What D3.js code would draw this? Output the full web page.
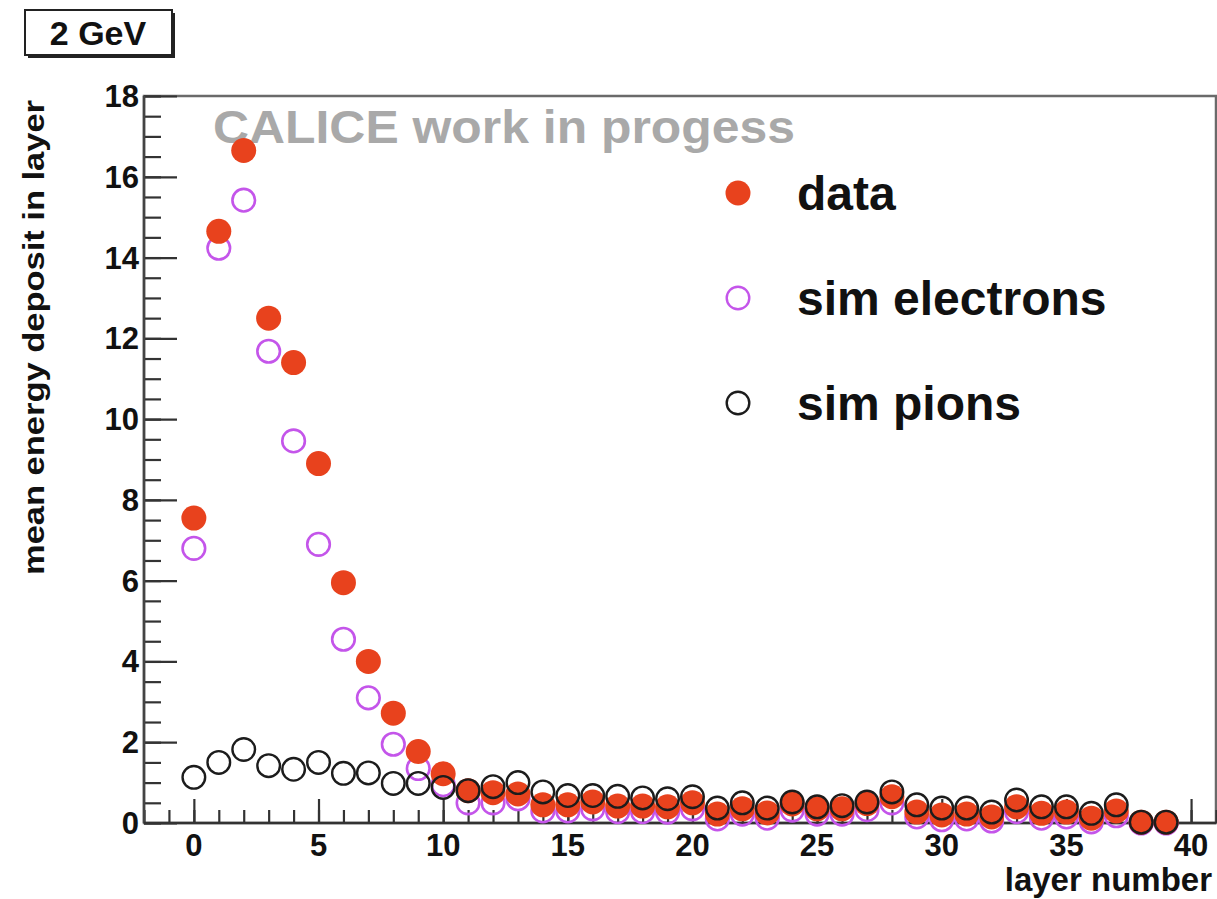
<!DOCTYPE html>
<html>
<head>
<meta charset="utf-8">
<script src="https://cdn.jsdelivr.net/npm/d3@7"></script>
<style>
  html, body { margin: 0; padding: 0; background: #fff; }
  svg { display: block; font-family: "Liberation Sans", Arial, Helvetica, sans-serif; }
</style>
</head>
<body>
<svg id="chart" width="1217" height="899"></svg>
<script>
// Longitudinal shower profile: mean energy deposit per layer, 2 GeV beam
const layers = d3.range(0, 40);

const dataValues = [7.55, 14.65, 16.65, 12.5, 11.4, 8.9, 5.95, 4.0, 2.72, 1.77,
  1.22, 0.8, 0.75, 0.72, 0.45, 0.45, 0.52, 0.42, 0.42, 0.4,
  0.5, 0.22, 0.35, 0.25, 0.47, 0.35, 0.35, 0.48, 0.65, 0.27,
  0.2, 0.22, 0.15, 0.4, 0.24, 0.27, 0.12, 0.3, 0.02, 0.02];

const simElectrons = [6.8, 14.23, 15.42, 11.68, 9.46, 6.9, 4.55, 3.1, 1.95, 1.35,
  0.95, 0.5, 0.5, 0.6, 0.3, 0.3, 0.35, 0.28, 0.28, 0.27,
  0.35, 0.1, 0.22, 0.12, 0.32, 0.22, 0.22, 0.33, 0.5, 0.15,
  0.08, 0.1, 0.05, 0.28, 0.12, 0.15, 0.03, 0.18, 0.0, 0.0];

const simPions = [1.13, 1.5, 1.82, 1.42, 1.33, 1.5, 1.23, 1.24, 0.98, 0.98,
  0.88, 0.8, 0.9, 1.0, 0.77, 0.68, 0.68, 0.66, 0.62, 0.6,
  0.65, 0.37, 0.5, 0.37, 0.52, 0.4, 0.43, 0.52, 0.77, 0.45,
  0.37, 0.37, 0.27, 0.57, 0.4, 0.4, 0.24, 0.45, 0.02, 0.02];

const xTickValues = [0, 5, 10, 15, 20, 25, 30, 35, 40];
const yTickValues = [0, 2, 4, 6, 8, 10, 12, 14, 16, 18];
const legendLabels = ["data", "sim electrons", "sim pions"];

const svg = d3.select("#chart");

const plot = { left: 144, right: 1216, top: 96, bottom: 823 };

const x = d3.scaleLinear().domain([-2, 41]).range([plot.left, plot.right]);
const y = d3.scaleLinear().domain([0, 18]).range([plot.bottom, plot.top]);

const RED = "#e8421d";
const VIOLET = "#c455ea";
const DARK = "#1c1c1c";
const R = 12.5;

// Frame
svg.append("rect")
  .attr("x", plot.left).attr("y", plot.top)
  .attr("width", plot.right - plot.left).attr("height", plot.bottom - plot.top)
  .attr("fill", "none").attr("stroke", "#6a6a6a").attr("stroke-width", 2.5);

// Y axis ticks (pointing inward)
const yMinor = d3.range(0, 18.01, 0.5);
const yAxisMinor = d3.axisRight(y).tickValues(yMinor).tickSize(17).tickFormat("");
const yAxisMajor = d3.axisRight(y).tickValues(yTickValues).tickSize(33).tickFormat("");
[yAxisMinor, yAxisMajor].forEach(ax => {
  const g = svg.append("g").attr("transform", `translate(${plot.left},0)`).call(ax);
  g.select(".domain").remove();
  g.selectAll("line").attr("stroke", "#333").attr("stroke-width", 2.2);
});

// X axis ticks (pointing inward)
const xMinor = d3.range(-2, 42, 1);
const xAxisMinor = d3.axisTop(x).tickValues(xMinor).tickSize(13).tickFormat("");
const xAxisMajor = d3.axisTop(x).tickValues(xTickValues).tickSize(24).tickFormat("");
[xAxisMinor, xAxisMajor].forEach(ax => {
  const g = svg.append("g").attr("transform", `translate(0,${plot.bottom})`).call(ax);
  g.select(".domain").remove();
  g.selectAll("line").attr("stroke", "#333").attr("stroke-width", 2.2);
});

// Axis lines on top of the frame
svg.append("line").attr("x1", plot.left).attr("x2", plot.left)
  .attr("y1", plot.top).attr("y2", plot.bottom)
  .attr("stroke", "#444").attr("stroke-width", 2.5);
svg.append("line").attr("x1", plot.left).attr("x2", plot.right)
  .attr("y1", plot.bottom).attr("y2", plot.bottom)
  .attr("stroke", "#333").attr("stroke-width", 2.5);

// Tick labels
svg.append("g").selectAll("text").data(yTickValues).join("text")
  .attr("x", plot.left - 5).attr("y", d => y(d) + 11)
  .attr("text-anchor", "end")
  .attr("font-size", 31).attr("font-weight", "bold").attr("fill", "#111")
  .text(d => d);

svg.append("g").selectAll("text").data(xTickValues).join("text")
  .attr("x", d => x(d)).attr("y", plot.bottom + 33)
  .attr("text-anchor", "middle")
  .attr("font-size", 31).attr("font-weight", "bold").attr("fill", "#111")
  .text(d => d);

// Axis titles
svg.append("text")
  .attr("x", 1212).attr("y", 891)
  .attr("text-anchor", "end")
  .attr("font-size", 33).attr("font-weight", "bold").attr("fill", "#111")
  .text("layer number");

svg.append("text")
  .attr("transform", `translate(44,${(100 + 575) / 2}) rotate(-90)`)
  .attr("text-anchor", "middle")
  .attr("font-size", 30).attr("font-weight", "bold").attr("fill", "#111")
  .attr("textLength", 475).attr("lengthAdjust", "spacingAndGlyphs")
  .text("mean energy deposit in layer");

// Watermark
svg.append("text")
  .attr("x", 213).attr("y", 143)
  .attr("font-size", 46).attr("font-weight", "bold").attr("fill", "#a9a9a9")
  .attr("textLength", 582).attr("lengthAdjust", "spacingAndGlyphs")
  .text("CALICE work in progess");

// Energy label box with drop shadow
svg.append("rect").attr("x", 28).attr("y", 13).attr("width", 147).attr("height", 45)
  .attr("fill", "#222");
svg.append("rect").attr("x", 25).attr("y", 10).attr("width", 147).attr("height", 45)
  .attr("fill", "#fff").attr("stroke", "#222").attr("stroke-width", 2);
svg.append("text")
  .attr("x", 98).attr("y", 45)
  .attr("text-anchor", "middle")
  .attr("font-size", 34).attr("font-weight", "bold").attr("fill", "#111")
  .text("2 GeV");

// Markers: simulated electrons, then data, then simulated pions on top
const markers = svg.append("g");

markers.append("g").selectAll("circle").data(layers).join("circle")
  .attr("cx", d => x(d)).attr("cy", d => y(simElectrons[d])).attr("r", R - 1.2)
  .attr("fill", "none").attr("stroke", VIOLET).attr("stroke-width", 2.6);

markers.append("g").selectAll("circle").data(layers).join("circle")
  .attr("cx", d => x(d)).attr("cy", d => y(dataValues[d])).attr("r", R)
  .attr("fill", RED);

markers.append("g").selectAll("circle").data(layers).join("circle")
  .attr("cx", d => x(d)).attr("cy", d => y(simPions[d])).attr("r", R - 1.2)
  .attr("fill", "none").attr("stroke", DARK).attr("stroke-width", 2.4);

// Legend
const legendY = [193, 298, 403];
const legend = svg.append("g");
legendLabels.forEach((label, i) => {
  const cy = legendY[i];
  if (i === 0) {
    legend.append("circle").attr("cx", 738).attr("cy", cy).attr("r", R).attr("fill", RED);
  } else {
    legend.append("circle").attr("cx", 738).attr("cy", cy).attr("r", R - 1.2)
      .attr("fill", "none").attr("stroke", i === 1 ? VIOLET : DARK).attr("stroke-width", 2.4);
  }
  legend.append("text")
    .attr("x", 797).attr("y", cy + 17)
    .attr("font-size", 48).attr("font-weight", "bold").attr("fill", "#111")
    .text(label);
});
</script>
</body>
</html>
